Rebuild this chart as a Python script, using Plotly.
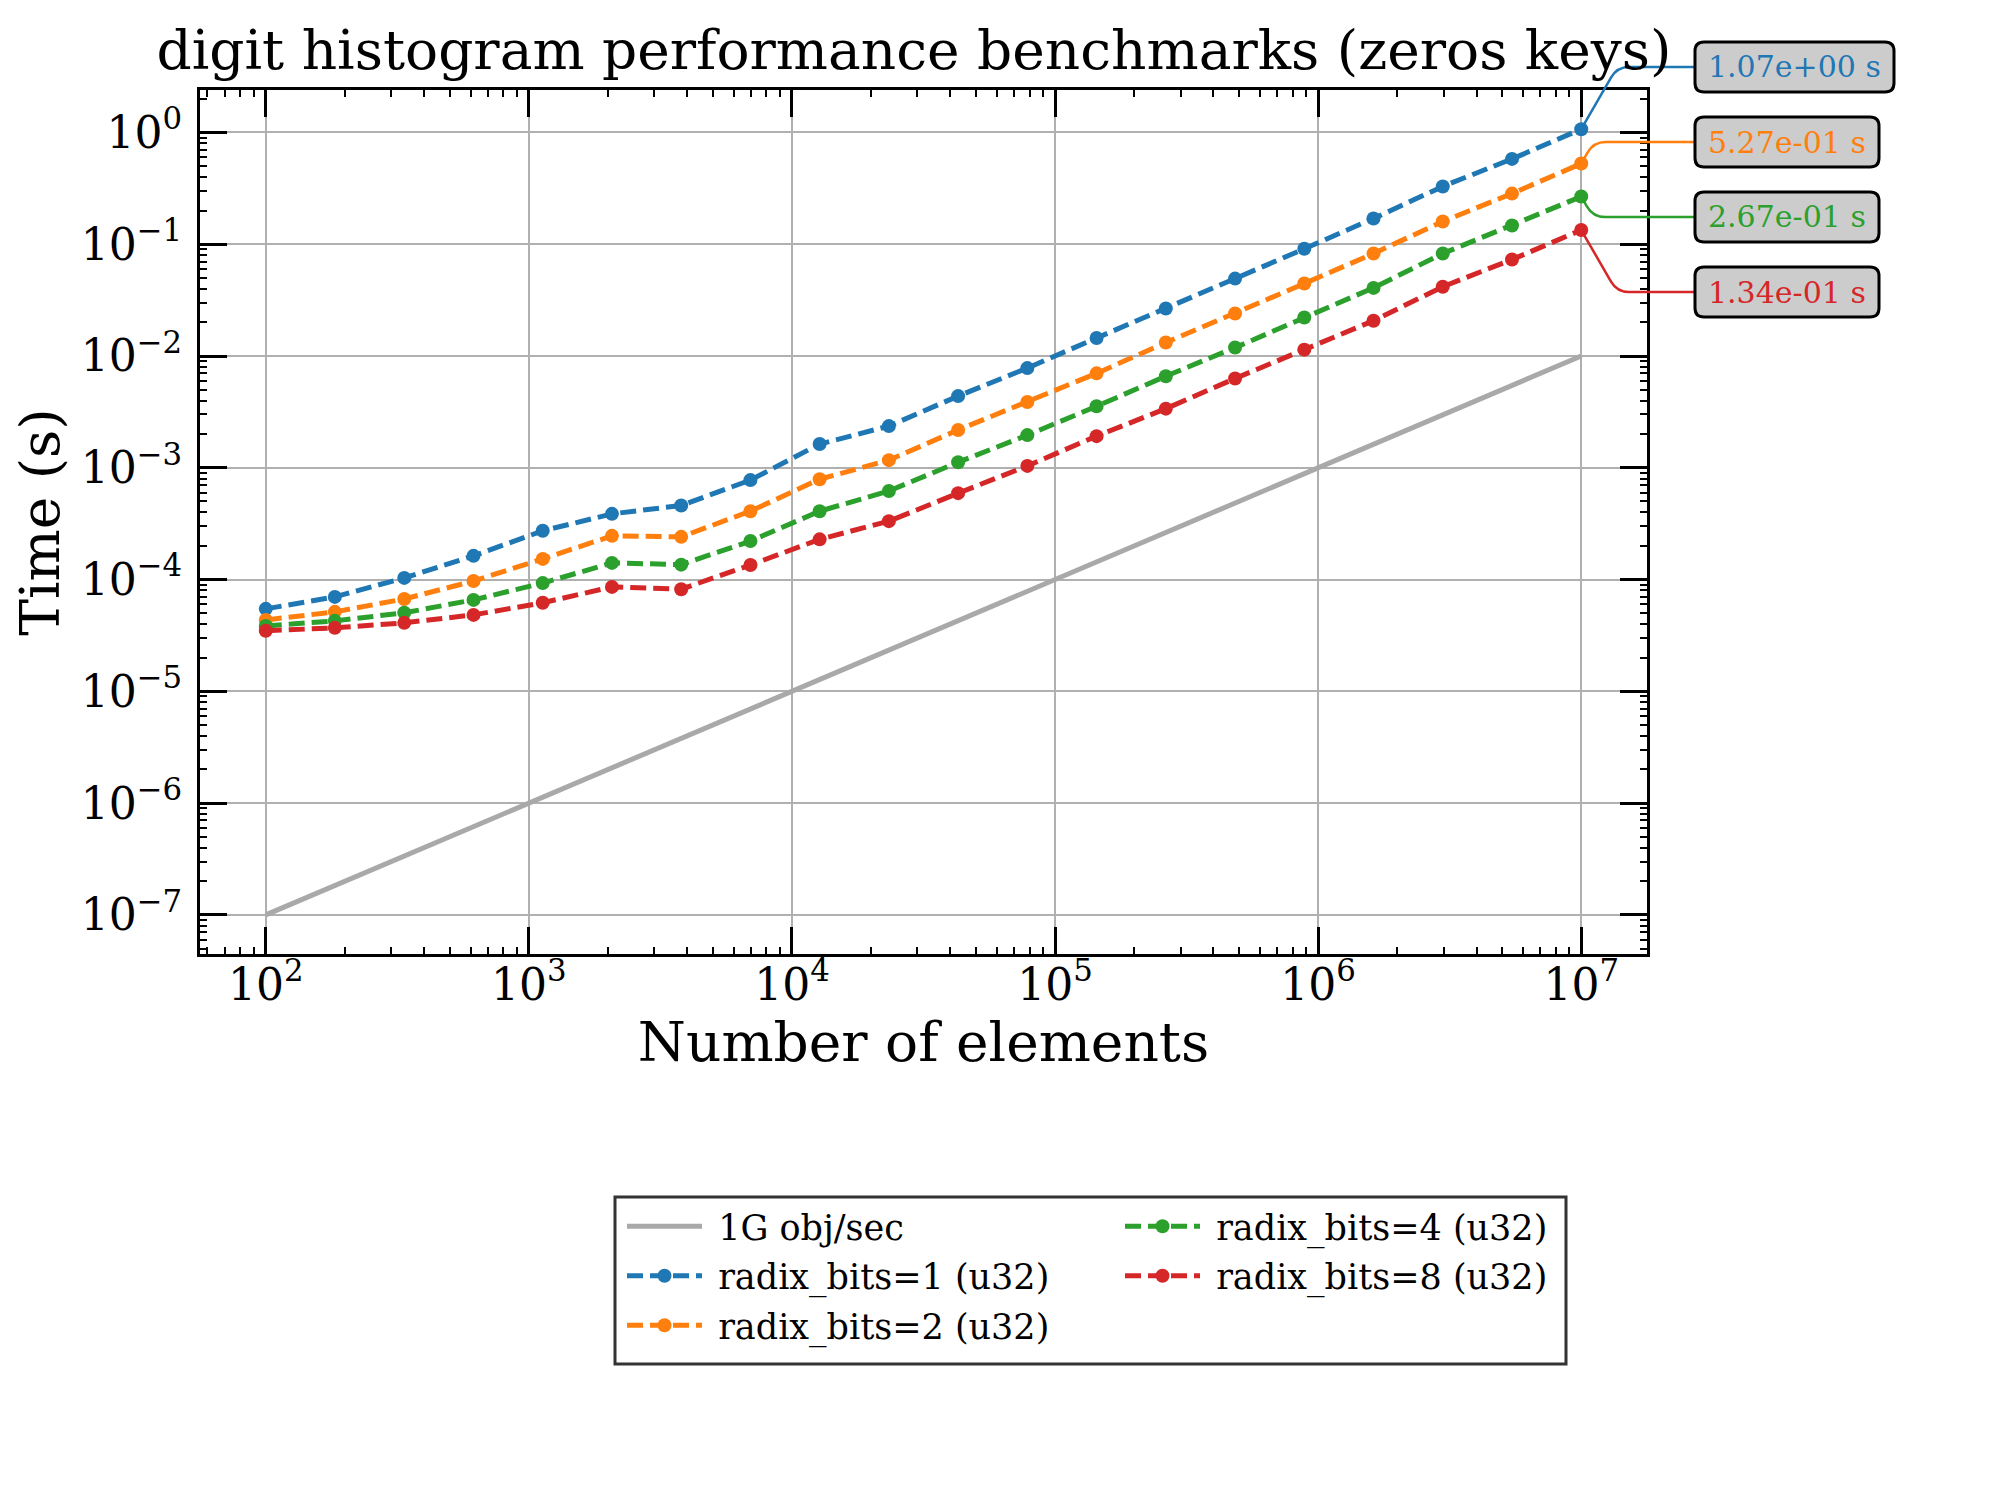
import math
import plotly.graph_objects as go

# benchmark data
sizes = [100, 183, 336, 616, 1129, 2069, 3793, 6952, 12743, 23357, 42813,
         78476, 143845, 263665, 483293, 885867, 1623776, 2976351, 5455595, 10000000]
ref_1g = [1.0e-7, 1.83e-7, 3.36e-7, 6.16e-7, 1.13e-6, 2.07e-6, 3.79e-6, 6.95e-6,
          1.27e-5, 2.34e-5, 4.28e-5, 7.85e-5, 1.44e-4, 2.64e-4, 4.83e-4, 8.86e-4,
          1.62e-3, 2.98e-3, 5.46e-3, 1.0e-2]
bits1 = [5.47e-5, 7.0e-5, 1.035e-4, 1.63e-4, 2.73e-4, 3.87e-4, 4.6e-4, 7.76e-4,
         1.63e-3, 2.36e-3, 4.38e-3, 7.8e-3, 1.45e-2, 2.66e-2, 4.93e-2, 9.1e-2,
         0.17, 0.329, 0.58, 1.07]
bits2 = [4.35e-5, 5.14e-5, 6.7e-5, 9.7e-5, 1.53e-4, 2.46e-4, 2.41e-4, 4.09e-4,
         7.9e-4, 1.17e-3, 2.18e-3, 3.88e-3, 7.0e-3, 1.32e-2, 2.4e-2, 4.45e-2,
         8.26e-2, 0.16, 0.284, 0.527]
bits4 = [3.85e-5, 4.27e-5, 5.04e-5, 6.58e-5, 9.3e-5, 1.41e-4, 1.36e-4, 2.21e-4,
         4.09e-4, 6.2e-4, 1.12e-3, 1.96e-3, 3.55e-3, 6.6e-3, 1.19e-2, 2.21e-2,
         4.07e-2, 8.26e-2, 0.147, 0.267]
bits8 = [3.48e-5, 3.7e-5, 4.1e-5, 4.83e-5, 6.2e-5, 8.6e-5, 8.2e-5, 1.35e-4,
         2.29e-4, 3.33e-4, 5.93e-4, 1.04e-3, 1.92e-3, 3.38e-3, 6.3e-3, 1.14e-2,
         2.07e-2, 4.17e-2, 7.3e-2, 0.134]

series_names = ['radix_bits=1 (u32)', 'radix_bits=2 (u32)', 'radix_bits=4 (u32)', 'radix_bits=8 (u32)']
series_vals = [bits1, bits2, bits4, bits8]
series_colors = ['#1f77b4', '#ff7f0e', '#2ca02c', '#d62728']
series_legend = ['legend', 'legend', 'legend2', 'legend2']

x_tickvals = [1e2, 1e3, 1e4, 1e5, 1e6, 1e7]
x_ticktext = ['10<sup>2</sup>', '10<sup>3</sup>', '10<sup>4</sup>', '10<sup>5</sup>',
              '10<sup>6</sup>', '10<sup>7</sup>']
y_tickvals = [1e-7, 1e-6, 1e-5, 1e-4, 1e-3, 1e-2, 1e-1, 1e0]
y_ticktext = ['10<sup>\u22127</sup>', '10<sup>\u22126</sup>', '10<sup>\u22125</sup>',
              '10<sup>\u22124</sup>', '10<sup>\u22123</sup>', '10<sup>\u22122</sup>',
              '10<sup>\u22121</sup>', '10<sup>0</sup>']

# the page body adds an 8px margin, so the figure is a bit smaller than the window
OFF = 8
W, H = 1992, 1492
ML, MT, MR, MB = 192, 82, 353, 546
PW, PH = W - ML - MR, H - MT - MB
XR = [1.75, 7.25]
YR = [-7.35, 0.38]
FONT = 'DejaVu Serif'


def minor_vals(lo, hi):
    return [m * 10 ** e for e in range(lo, hi) for m in range(2, 10)]


def px2paper(px, py):
    # page pixel -> paper fraction
    return (px - OFF - ML) / PW, (MT + PH - (py - OFF)) / PH


def data2px(x, y):
    px = OFF + ML + (math.log10(x) - XR[0]) / (XR[1] - XR[0]) * PW
    py = OFF + MT + PH - (math.log10(y) - YR[0]) / (YR[1] - YR[0]) * PH
    return px, py


fig = go.Figure()
fig.add_trace(go.Scatter(
    x=sizes, y=ref_1g, mode='lines', name='\u00a01G obj/sec', legend='legend',
    legendgroup='ref', line=dict(color='#a9a9a9', width=5)
))
for name, vals, col, leg in zip(series_names, series_vals, series_colors, series_legend):
    fig.add_trace(go.Scatter(
        x=sizes, y=vals, mode='lines+markers', name='\u00a0' + name, legend=leg,
        legendgroup=name, line=dict(color=col, width=5, dash='16px,7px'),
        marker=dict(color=col, size=14)
    ))

# value call-outs to the right of the plot
shapes = []
annotations = []
box_left = 1695
box_h = 50
box_widths = [199, 184, 184, 184]
label_y = [67, 142, 217, 292]
for vals, col, bw, yc in zip(series_vals, series_colors, box_widths, label_y):
    p0 = data2px(sizes[-1], vals[-1])
    dy = abs(yc - p0[1])
    corner = (p0[0] + dy / math.tan(math.radians(60)), yc)
    end = (box_left, yc)
    seg1 = math.hypot(corner[0] - p0[0], corner[1] - p0[1])
    r = min(12, seg1 * 0.7)
    ux, uy = (corner[0] - p0[0]) / seg1, (corner[1] - p0[1]) / seg1
    a = (corner[0] - r * ux, corner[1] - r * uy)
    b = (corner[0] + r, corner[1])
    pts = [px2paper(*p) for p in (p0, a, corner, b, end)]
    path = 'M {0[0]},{0[1]} L {1[0]},{1[1]} Q {2[0]},{2[1]} {3[0]},{3[1]} L {4[0]},{4[1]}'.format(*pts)
    shapes.append(dict(type='path', xref='paper', yref='paper', path=path,
                       line=dict(color=col, width=2.5), layer='above'))
    L, R, T, B, rr = box_left, box_left + bw, yc - box_h / 2, yc + box_h / 2, 9
    rp = [px2paper(*p) for p in [(L + rr, T), (R - rr, T), (R, T), (R, T + rr), (R, B - rr), (R, B),
                                  (R - rr, B), (L + rr, B), (L, B), (L, B - rr), (L, T + rr), (L, T)]]
    rect = ('M {0[0]},{0[1]} L {1[0]},{1[1]} Q {2[0]},{2[1]} {3[0]},{3[1]} L {4[0]},{4[1]} '
            'Q {5[0]},{5[1]} {6[0]},{6[1]} L {7[0]},{7[1]} Q {8[0]},{8[1]} {9[0]},{9[1]} '
            'L {10[0]},{10[1]} Q {11[0]},{11[1]} {0[0]},{0[1]} Z').format(*rp)
    shapes.append(dict(type='path', xref='paper', yref='paper', path=rect,
                       fillcolor='#cccccc', line=dict(color='black', width=3), layer='above'))
    tx, ty = px2paper(box_left + 11, yc)
    annotations.append(dict(x=tx, y=ty, xref='paper', yref='paper', xanchor='left',
                            yanchor='middle', showarrow=False, text=f'{vals[-1]:.2e} s',
                            font=dict(family=FONT, size=30, color=col)))

# legend frame (both legend columns sit inside it)
fx0, fy0 = px2paper(615, 1197)
fx1, fy1 = px2paper(1566, 1364)
shapes.append(dict(type='rect', xref='paper', yref='paper', x0=fx0, y0=fy0, x1=fx1, y1=fy1,
                   line=dict(color='#333333', width=3), fillcolor='white', layer='below'))

axis_common = dict(
    type='log', showline=True, linecolor='black', linewidth=3, mirror='allticks',
    ticks='inside', ticklen=27, tickwidth=3, tickcolor='black',
    showgrid=True, gridcolor='#b0b0b0', gridwidth=2, zeroline=False,
    tickfont=dict(family=FONT, size=44, color='black'), tickmode='array',
)

leg_common = dict(orientation='v', xanchor='left', yanchor='top', itemwidth=75,
                  bgcolor='rgba(0,0,0,0)', borderwidth=0, tracegroupgap=1,
                  font=dict(family=FONT, size=35, color='black'))
l1x, l1y = px2paper(622, 1197)
l2x, _ = px2paper(1120, 1197)
title_x, _ = px2paper(914, 0)

fig.update_layout(
    width=W, height=H,
    margin=dict(l=ML, r=MR, t=MT, b=MB, autoexpand=False),
    paper_bgcolor='white', plot_bgcolor='white',
    font=dict(family=FONT, color='black'),
    title=dict(text='digit histogram performance benchmarks (zeros keys)',
               font=dict(family=FONT, size=55, color='black'),
               x=title_x, xref='paper', xanchor='center',
               y=1 - 42 / H, yref='container', yanchor='middle'),
    xaxis=dict(axis_common, range=XR, tickvals=x_tickvals, ticktext=x_ticktext,
               ticklabelstandoff=-10,
               minor=dict(tickmode='array', tickvals=minor_vals(1, 8), ticks='inside',
                          ticklen=7, tickwidth=2, tickcolor='black', showgrid=False),
               title=dict(text='Number of elements', standoff=8,
                          font=dict(family=FONT, size=55, color='black'))),
    yaxis=dict(axis_common, range=YR, tickvals=y_tickvals, ticktext=y_ticktext,
               ticklabelstandoff=6,
               minor=dict(tickmode='array', tickvals=minor_vals(-8, 1), ticks='inside',
                          ticklen=7, tickwidth=2, tickcolor='black', showgrid=False),
               title=dict(text='Time (s)', standoff=19,
                          font=dict(family=FONT, size=55, color='black'))),
    legend=dict(leg_common, x=l1x, y=l1y),
    legend2=dict(leg_common, x=l2x, y=l1y),
    shapes=shapes, annotations=annotations,
)

fig.write_html('out.html')
